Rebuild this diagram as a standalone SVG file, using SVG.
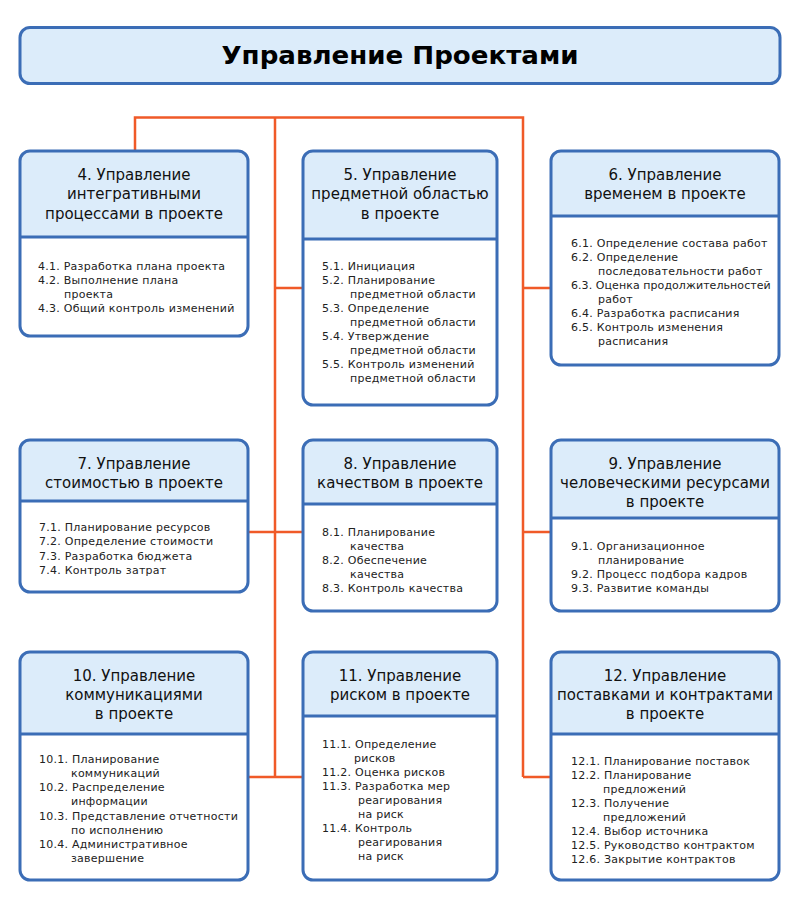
<svg xmlns="http://www.w3.org/2000/svg" width="800" height="912" viewBox="0 0 800 912">
<style>
.hdr{fill:#dcecfa}
.body{fill:#ffffff}
.out{fill:none;stroke:#3b6db6;stroke-width:3}
.div{stroke:#3b6db6;stroke-width:3}
.conn{stroke:#f05a28;stroke-width:2.5;fill:none}
.h{font-family:"DejaVu Sans",Verdana,sans-serif;font-size:15px;fill:#111;text-anchor:middle}
.t{font-family:"DejaVu Sans",Verdana,sans-serif;font-size:11px;letter-spacing:0.25px;fill:#222}
.title{font-family:"DejaVu Sans",Verdana,sans-serif;font-size:24px;font-weight:bold;fill:#000;text-anchor:middle}
</style>
<rect width="800" height="912" fill="#ffffff"/>
<g id="connectors">
<path class="conn" d="M135 150 V117.5 H523 V777 M275 117.5 V777 M275 288 H303 M523 288 H551 M248 532 H303 M523 532 H551 M248 777 H303 M523 777 H551"/>
</g>
<g id="title">
<rect x="20" y="27.5" width="760" height="56" rx="10" fill="#dcecfa" stroke="#3b6db6" stroke-width="3"/>
<text class="title" x="400" y="64" textLength="357" lengthAdjust="spacingAndGlyphs">Управление Проектами</text>
</g>
<g id="n4">
<rect class="hdr" x="20" y="151" width="228" height="185" rx="10"/>
<path class="body" d="M20 237 H248 V326 A10 10 0 0 1 238 336 H30 A10 10 0 0 1 20 326 Z"/>
<line class="div" x1="20" y1="237" x2="248" y2="237"/>
<rect class="out" x="20" y="151" width="228" height="185" rx="10"/>
<text class="h" x="134" y="180">4. Управление</text>
<text class="h" x="134" y="199">интегративными</text>
<text class="h" x="134" y="219">процессами в проекте</text>
<text class="t" x="38" y="270">4.1. Разработка плана проекта</text>
<text class="t" x="38" y="284">4.2. Выполнение плана</text>
<text class="t" x="64" y="298">проекта</text>
<text class="t" x="38" y="312">4.3. Общий контроль изменений</text>
</g>
<g id="n5">
<rect class="hdr" x="303" y="151" width="194" height="254" rx="10"/>
<path class="body" d="M303 239 H497 V395 A10 10 0 0 1 487 405 H313 A10 10 0 0 1 303 395 Z"/>
<line class="div" x1="303" y1="239" x2="497" y2="239"/>
<rect class="out" x="303" y="151" width="194" height="254" rx="10"/>
<text class="h" x="400" y="180">5. Управление</text>
<text class="h" x="400" y="199">предметной областью</text>
<text class="h" x="400" y="219">в проекте</text>
<text class="t" x="322" y="270">5.1. Инициация</text>
<text class="t" x="322" y="284">5.2. Планирование</text>
<text class="t" x="350" y="298">предметной области</text>
<text class="t" x="322" y="312">5.3. Определение</text>
<text class="t" x="350" y="326">предметной области</text>
<text class="t" x="322" y="340">5.4. Утверждение</text>
<text class="t" x="350" y="354">предметной области</text>
<text class="t" x="322" y="368">5.5. Контроль изменений</text>
<text class="t" x="350" y="382">предметной области</text>
</g>
<g id="n6">
<rect class="hdr" x="551" y="151" width="228" height="214" rx="10"/>
<path class="body" d="M551 216 H779 V355 A10 10 0 0 1 769 365 H561 A10 10 0 0 1 551 355 Z"/>
<line class="div" x1="551" y1="216" x2="779" y2="216"/>
<rect class="out" x="551" y="151" width="228" height="214" rx="10"/>
<text class="h" x="665" y="180">6. Управление</text>
<text class="h" x="665" y="199">временем в проекте</text>
<text class="t" x="571" y="247">6.1. Определение состава работ</text>
<text class="t" x="571" y="261">6.2. Определение</text>
<text class="t" x="598" y="275">последовательности работ</text>
<text class="t" x="571" y="289" textLength="200">6.3. Оценка продолжительностей</text>
<text class="t" x="598" y="303">работ</text>
<text class="t" x="571" y="317">6.4. Разработка расписания</text>
<text class="t" x="571" y="331">6.5. Контроль изменения</text>
<text class="t" x="598" y="345">расписания</text>
</g>
<g id="n7">
<rect class="hdr" x="20" y="440" width="228" height="152" rx="10"/>
<path class="body" d="M20 501 H248 V582 A10 10 0 0 1 238 592 H30 A10 10 0 0 1 20 582 Z"/>
<line class="div" x1="20" y1="501" x2="248" y2="501"/>
<rect class="out" x="20" y="440" width="228" height="152" rx="10"/>
<text class="h" x="134" y="469">7. Управление</text>
<text class="h" x="134" y="488">стоимостью в проекте</text>
<text class="t" x="39" y="531">7.1. Планирование ресурсов</text>
<text class="t" x="39" y="545">7.2. Определение стоимости</text>
<text class="t" x="39" y="560">7.3. Разработка бюджета</text>
<text class="t" x="39" y="574">7.4. Контроль затрат</text>
</g>
<g id="n8">
<rect class="hdr" x="303" y="440" width="194" height="171" rx="10"/>
<path class="body" d="M303 504 H497 V601 A10 10 0 0 1 487 611 H313 A10 10 0 0 1 303 601 Z"/>
<line class="div" x1="303" y1="504" x2="497" y2="504"/>
<rect class="out" x="303" y="440" width="194" height="171" rx="10"/>
<text class="h" x="400" y="469">8. Управление</text>
<text class="h" x="400" y="488">качеством в проекте</text>
<text class="t" x="322" y="536">8.1. Планирование</text>
<text class="t" x="350" y="550">качества</text>
<text class="t" x="322" y="564">8.2. Обеспечение</text>
<text class="t" x="350" y="578">качества</text>
<text class="t" x="322" y="592">8.3. Контроль качества</text>
</g>
<g id="n9">
<rect class="hdr" x="551" y="440" width="228" height="171" rx="10"/>
<path class="body" d="M551 518 H779 V601 A10 10 0 0 1 769 611 H561 A10 10 0 0 1 551 601 Z"/>
<line class="div" x1="551" y1="518" x2="779" y2="518"/>
<rect class="out" x="551" y="440" width="228" height="171" rx="10"/>
<text class="h" x="665" y="469">9. Управление</text>
<text class="h" x="665" y="488">человеческими ресурсами</text>
<text class="h" x="665" y="507">в проекте</text>
<text class="t" x="571" y="550">9.1. Организационное</text>
<text class="t" x="598" y="564">планирование</text>
<text class="t" x="571" y="578">9.2. Процесс подбора кадров</text>
<text class="t" x="571" y="592">9.3. Развитие команды</text>
</g>
<g id="n10">
<rect class="hdr" x="20" y="652" width="228" height="228" rx="10"/>
<path class="body" d="M20 734 H248 V870 A10 10 0 0 1 238 880 H30 A10 10 0 0 1 20 870 Z"/>
<line class="div" x1="20" y1="734" x2="248" y2="734"/>
<rect class="out" x="20" y="652" width="228" height="228" rx="10"/>
<text class="h" x="134" y="681">10. Управление</text>
<text class="h" x="134" y="700">коммуникациями</text>
<text class="h" x="134" y="719">в проекте</text>
<text class="t" x="39" y="763">10.1. Планирование</text>
<text class="t" x="71" y="777">коммуникаций</text>
<text class="t" x="39" y="791">10.2. Распределение</text>
<text class="t" x="71" y="805">информации</text>
<text class="t" x="39" y="820">10.3. Представление отчетности</text>
<text class="t" x="71" y="834">по исполнению</text>
<text class="t" x="39" y="848">10.4. Административное</text>
<text class="t" x="71" y="862">завершение</text>
</g>
<g id="n11">
<rect class="hdr" x="303" y="652" width="194" height="228" rx="10"/>
<path class="body" d="M303 716 H497 V870 A10 10 0 0 1 487 880 H313 A10 10 0 0 1 303 870 Z"/>
<line class="div" x1="303" y1="716" x2="497" y2="716"/>
<rect class="out" x="303" y="652" width="194" height="228" rx="10"/>
<text class="h" x="400" y="681">11. Управление</text>
<text class="h" x="400" y="700">риском в проекте</text>
<text class="t" x="322" y="748">11.1. Определение</text>
<text class="t" x="354" y="762">рисков</text>
<text class="t" x="322" y="776">11.2. Оценка рисков</text>
<text class="t" x="322" y="790">11.3. Разработка мер</text>
<text class="t" x="358" y="804">реагирования</text>
<text class="t" x="358" y="818">на риск</text>
<text class="t" x="322" y="832">11.4. Контроль</text>
<text class="t" x="358" y="846">реагирования</text>
<text class="t" x="358" y="860">на риск</text>
</g>
<g id="n12">
<rect class="hdr" x="551" y="652" width="228" height="228" rx="10"/>
<path class="body" d="M551 734 H779 V870 A10 10 0 0 1 769 880 H561 A10 10 0 0 1 551 870 Z"/>
<line class="div" x1="551" y1="734" x2="779" y2="734"/>
<rect class="out" x="551" y="652" width="228" height="228" rx="10"/>
<text class="h" x="665" y="681">12. Управление</text>
<text class="h" x="665" y="700">поставками и контрактами</text>
<text class="h" x="665" y="719">в проекте</text>
<text class="t" x="571" y="765">12.1. Планирование поставок</text>
<text class="t" x="571" y="779">12.2. Планирование</text>
<text class="t" x="603" y="793">предложений</text>
<text class="t" x="571" y="807">12.3. Получение</text>
<text class="t" x="603" y="821">предложений</text>
<text class="t" x="571" y="835">12.4. Выбор источника</text>
<text class="t" x="571" y="849">12.5. Руководство контрактом</text>
<text class="t" x="571" y="863">12.6. Закрытие контрактов</text>
</g>
</svg>
